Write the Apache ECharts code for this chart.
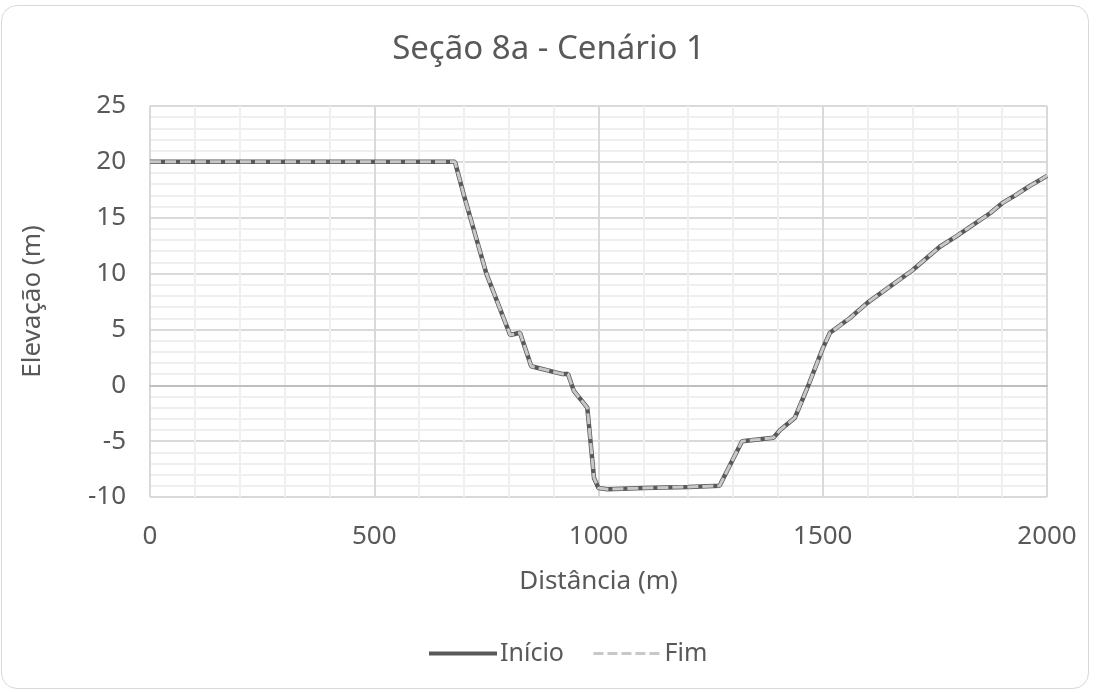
<!DOCTYPE html>
<html>
<head>
<meta charset="utf-8">
<script src="https://cdn.jsdelivr.net/npm/echarts@6/dist/echarts.min.js"></script>
<style>
  html, body { margin: 0; padding: 0; background: #fff; }
  #frame {
    position: absolute; left: 1px; top: 5px; width: 1088px; height: 684px;
    border: 1.5px solid #d9d9d9; border-radius: 16px; box-sizing: border-box;
  }
  #chart { position: absolute; left: 0; top: 0; width: 1097px; height: 693px; }
</style>
</head>
<body>
<div id="frame"></div>
<div id="chart"></div>
<script>
  // distancia (m) e elevacao (m)
  var distancia = [0, 680, 700, 750, 803, 825, 850, 920, 932, 945, 975, 990, 1000, 1020, 1100, 1200, 1270,
    1320, 1390, 1405, 1438, 1470, 1500, 1516, 1560, 1600, 1700, 1761, 1800, 1873, 1900, 1929, 1960, 2000];
  var inicio = [20, 20, 17, 10, 4.5, 4.7, 1.7, 1.0, 1.0, -0.5, -2.0, -8.3, -9.2, -9.3, -9.2, -9.1, -9.0,
    -5.0, -4.7, -4.0, -2.9, 0.2, 3.3, 4.7, 6.0, 7.4, 10.3, 12.4, 13.4, 15.4, 16.3, 17.0, 17.8, 18.75];
  var fim = inicio.slice();
  var seriesNames = ['Início', 'Fim'];

  function pares(xs, ys) {
    var out = [];
    for (var i = 0; i < xs.length; i++) out.push([xs[i], ys[i]]);
    return out;
  }

  var fonte = 'Noto Sans';
  var cinza = '#595959';
  var myChart = echarts.init(document.getElementById('chart'));
  var option = {
    animation: false,
    textStyle: { fontFamily: fonte },
    title: {
      text: 'Seção 8a - Cenário 1',
      left: 'center',
      top: 28,
      textStyle: { color: cinza, fontSize: 33, fontWeight: 'normal', fontFamily: fonte }
    },
    legend: {
      bottom: 22,
      left: 422,
      itemWidth: 68,
      itemHeight: 12,
      itemGap: 28,
      itemStyle: { opacity: 0 },
      textStyle: { color: cinza, fontSize: 25, fontFamily: fonte, padding: [0, 0, 0, -2] },
      data: [
        { name: seriesNames[0], lineStyle: { width: 4, color: cinza } },
        { name: seriesNames[1], lineStyle: { width: 3, color: '#c8c8c8', type: [10, 4] } }
      ]
    },
    grid: { left: 150, right: 50, top: 106, bottom: 196 },
    xAxis: {
      type: 'value',
      min: 0, max: 2000, interval: 500,
      name: 'Distância (m)',
      nameLocation: 'middle',
      nameGap: 72,
      nameTextStyle: { color: cinza, fontSize: 26, fontFamily: fonte },
      axisLine: { show: true, lineStyle: { color: '#bfbfbf', width: 2 } },
      axisTick: { show: false },
      axisLabel: { color: cinza, fontSize: 26, margin: 27, fontFamily: fonte, formatter: function (v) { return String(v); } },
      splitLine: { show: true, lineStyle: { color: '#d9d9d9', width: 2 } },
      minorTick: { show: false, splitNumber: 5 },
      minorSplitLine: { show: true, lineStyle: { color: '#efefef', width: 2 } }
    },
    yAxis: {
      type: 'value',
      min: -10, max: 25, interval: 5,
      name: 'Elevação (m)',
      nameLocation: 'middle',
      nameGap: 104,
      nameRotate: 90,
      nameTextStyle: { color: cinza, fontSize: 26, fontFamily: fonte },
      axisLine: { show: false },
      axisTick: { show: false },
      axisLabel: { color: cinza, fontSize: 26, margin: 24, fontFamily: fonte },
      splitLine: { show: true, lineStyle: { color: '#d9d9d9', width: 2 } },
      minorTick: { show: false, splitNumber: 5 },
      minorSplitLine: { show: true, lineStyle: { color: '#efefef', width: 2 } }
    },
    series: [
      {
        name: seriesNames[0],
        type: 'line',
        symbol: 'none',
        data: pares(distancia, inicio),
        lineStyle: { color: cinza, width: 4.5 },
        itemStyle: { color: cinza },
        z: 2
      },
      {
        name: seriesNames[1],
        type: 'line',
        symbol: 'none',
        data: pares(distancia, fim),
        lineStyle: { color: '#c8c8c8', width: 3, type: [11, 4] },
        itemStyle: { color: '#c8c8c8' },
        z: 3
      }
    ]
  };
  myChart.setOption(option);
</script>
</body>
</html>
